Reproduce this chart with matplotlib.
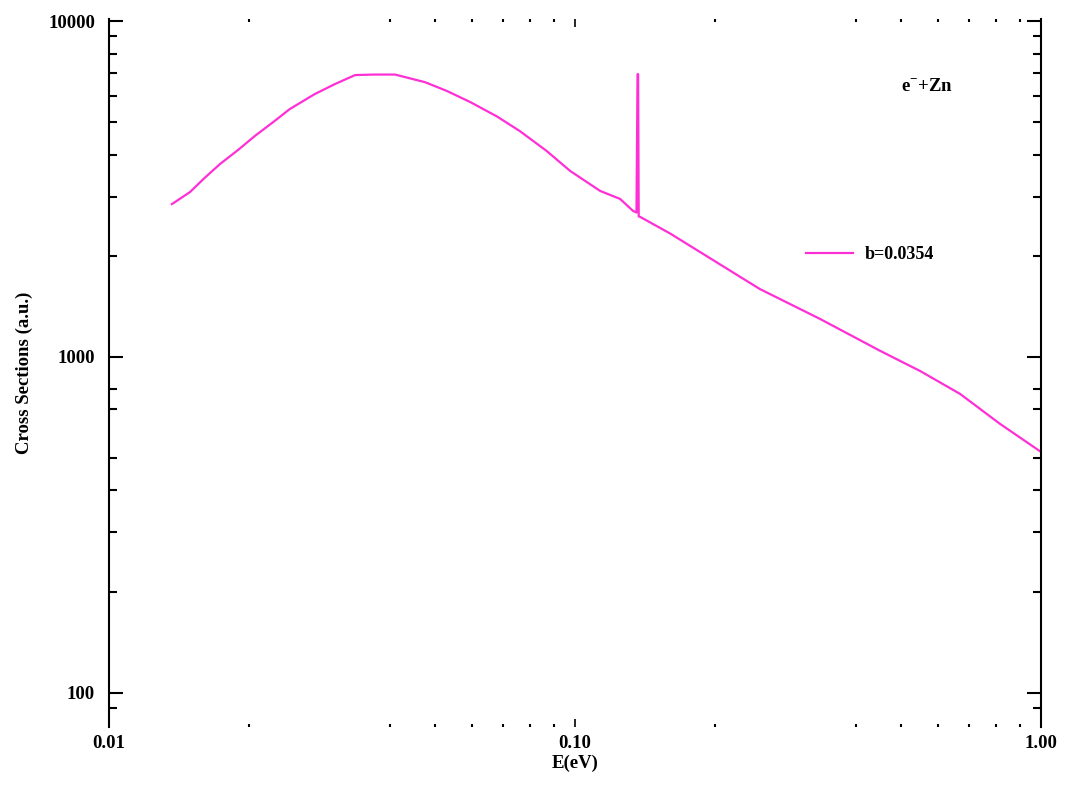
import matplotlib
matplotlib.use("Agg")
import matplotlib.pyplot as plt
from matplotlib.ticker import FixedLocator, NullFormatter

plt.rcParams['font.family'] = ['Liberation Serif', 'DejaVu Serif']
plt.rcParams['font.weight'] = 'bold'
plt.rcParams['mathtext.fontset'] = 'custom'
plt.rcParams['mathtext.rm'] = 'Liberation Serif:bold'
plt.rcParams['mathtext.bf'] = 'Liberation Serif:bold'

# energy (eV) and cross section (a.u.)
energy = [0.01365, 0.01493, 0.01600, 0.01730, 0.01900, 0.02056, 0.02250, 0.02444,
          0.02766, 0.03055, 0.03374, 0.03700, 0.04111, 0.04766, 0.05300, 0.05954,
          0.06800, 0.07620, 0.08700, 0.09760, 0.1132, 0.1250, 0.1331, 0.1355,
          0.1362, 0.1366, 0.1370, 0.1380, 0.1600, 0.1854, 0.2493, 0.3356,
          0.4517, 0.5498, 0.6700, 0.8160, 1.000]
sigma = [2851, 3097, 3400, 3750, 4150, 4548, 5000, 5471,
         6065, 6494, 6906, 6930, 6930, 6577, 6200, 5743,
         5200, 4700, 4100, 3580, 3121, 2953, 2723, 2690,
         6950, 6950, 2620, 2611, 2330, 2053, 1592, 1297,
         1042, 908, 776, 632, 521]
series_label = "b=0.0354"

x_major = [0.01, 0.1, 1.0]
x_major_labels = ["0.01", "0.10", "1.00"]
y_major = [100, 1000, 10000]
y_major_labels = ["100", "1000", "10000"]

fig = plt.figure(figsize=(10.65, 7.88), dpi=100)
ax = fig.add_axes([0.1023, 0.0774, 0.8752, 0.8986])

ax.plot(energy, sigma, color='#ff2fd6', lw=1.6, label=series_label)
ax.set_xscale('log')
ax.set_yscale('log')
ax.set_xlim(0.01, 1.0)
ax.set_ylim(79, 10150)

ax.spines['top'].set_visible(False)
ax.spines['bottom'].set_visible(False)
for s in ('left', 'right'):
    ax.spines[s].set_linewidth(1.5)

ax.xaxis.set_major_locator(FixedLocator(x_major))
ax.set_xticklabels(x_major_labels)
xminor = [d * m for d in (0.01, 0.1) for m in (2, 4, 5, 6, 7, 8, 9)]
ax.xaxis.set_minor_locator(FixedLocator(xminor))
ax.xaxis.set_minor_formatter(NullFormatter())

ax.yaxis.set_major_locator(FixedLocator(y_major))
ax.set_yticklabels(y_major_labels)
yminor = [90] + [100 * m for m in (2, 3, 4, 5, 7, 8)] + [1000 * m for m in range(2, 10)]
ax.yaxis.set_minor_locator(FixedLocator(yminor))
ax.yaxis.set_minor_formatter(NullFormatter())

ax.tick_params(axis='y', which='major', direction='in', length=10, width=1.5,
               left=True, right=True, labelsize=13.5, pad=10)
ax.tick_params(axis='y', which='minor', direction='in', length=6, width=1.5,
               left=True, right=True)
ax.tick_params(axis='x', which='major', direction='in', length=6, width=1.2,
               bottom=True, top=True, labelsize=13.5, pad=6)
ax.tick_params(axis='x', which='minor', direction='in', length=2, width=1.5,
               bottom=True, top=True)

ax.set_xlabel("E(eV)", fontsize=13.5, fontweight='bold', labelpad=2)
ax.set_ylabel("Cross Sections (a.u.)", fontsize=13.5, fontweight='bold', labelpad=11)

ax.text(0.878, 0.904, r"e$^{-}$+Zn", transform=ax.transAxes, ha='center',
        va='center', fontsize=13.5, fontweight='bold')

ax.legend(loc='center left', bbox_to_anchor=(0.73, 0.667), frameon=False,
          fontsize=13, handlelength=2.6, handletextpad=0.7)

fig.savefig("out.png", dpi=100)
